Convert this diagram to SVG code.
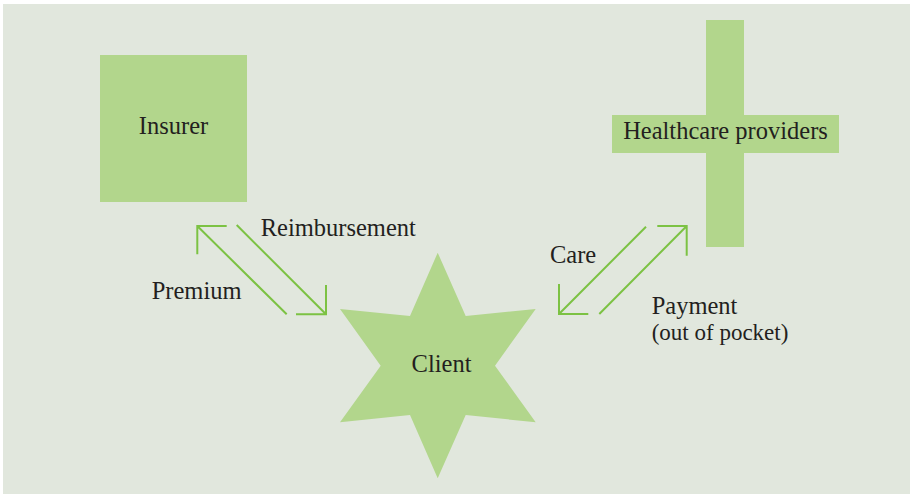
<svg xmlns="http://www.w3.org/2000/svg" width="910" height="495" viewBox="0 0 910 495">
  <style>
    .shape { fill: #b2d68c; }
    .lbl { font-family: "Liberation Serif", "Times New Roman", serif; font-size: 24.5px; fill: #231f20; }
    .sm { font-size: 23px; }
    .mid { text-anchor: middle; }
    .arr { stroke: #7cc243; stroke-width: 2; fill: none; stroke-linecap: butt; }
  </style>
  <rect x="3" y="4" width="907" height="490" fill="#e1e7dd"/>

  <g id="insurer">
    <rect class="shape" x="100" y="55" width="147" height="147"/>
    <text class="lbl mid" x="173.5" y="134.3">Insurer</text>
  </g>

  <g id="healthcare-providers">
    <rect class="shape" x="706" y="20" width="38" height="227"/>
    <rect class="shape" x="612" y="115" width="227" height="38"/>
    <text class="lbl mid" x="725.5" y="139">Healthcare providers</text>
  </g>

  <g id="client">
    <polygon class="shape" points="437.7,252.7 465.7,316 535.7,309 495,365.7 535.7,422.3 465.7,415 437.7,478.3 410,415 340,422.3 380.7,365.7 340,309 410,316"/>
    <text class="lbl mid" x="441.5" y="372.3">Client</text>
  </g>

  <g id="connectors">
    <!-- Premium: client to insurer -->
    <path class="arr" d="M286.7,314.3 L197.3,226 M226.7,226 L197.3,226 L197.3,254.3"/>
    <!-- Reimbursement: insurer to client -->
    <path class="arr" d="M236.7,225 L326,314.3 M296,314.3 L326,314.3 L326,285"/>
    <!-- Care: providers to client -->
    <path class="arr" d="M646,226.7 L559,314 M559,284 L559,314 L588.3,314"/>
    <!-- Payment: client to providers -->
    <path class="arr" d="M599.3,314 L686.7,226 M657.3,226 L686.7,226 L686.7,255.7"/>
  </g>

  <g id="labels">
    <text class="lbl" x="260.7" y="236">Reimbursement</text>
    <text class="lbl" x="151.7" y="299.3">Premium</text>
    <text class="lbl" x="550" y="262.7">Care</text>
    <text class="lbl" x="651.7" y="313.5">Payment</text>
    <text class="lbl sm" x="651.7" y="340">(out of pocket)</text>
  </g>
</svg>
